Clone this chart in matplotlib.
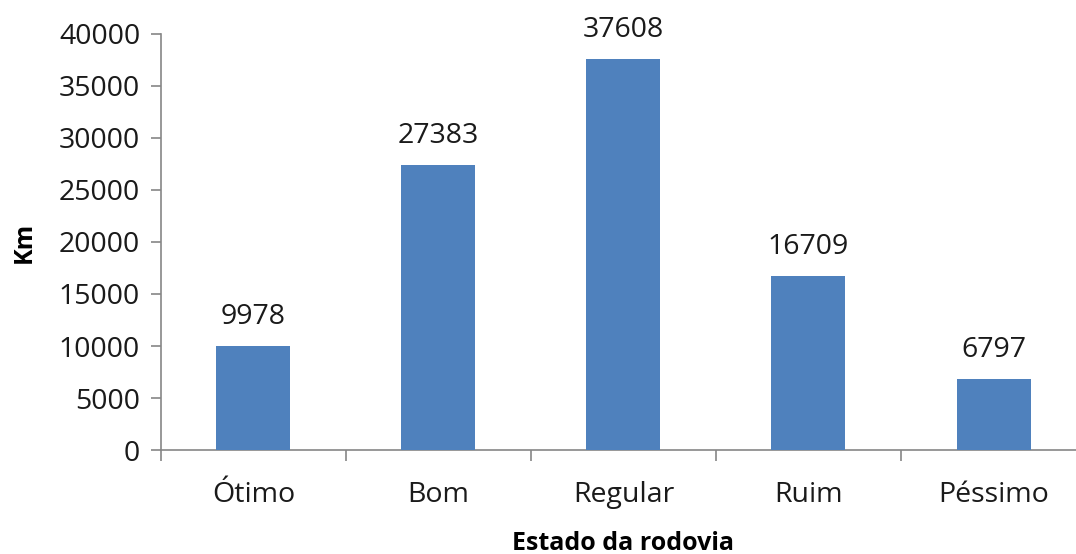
import matplotlib
matplotlib.use("Agg")
import matplotlib.pyplot as plt

categories = ["Ótimo", "Bom", "Regular", "Ruim", "Péssimo"]
values = [9978, 27383, 37608, 16709, 6797]
yticks = [0, 5000, 10000, 15000, 20000, 25000, 30000, 35000, 40000]

plt.rcParams['font.family'] = ['Open Sans', 'DejaVu Sans']
fig = plt.figure(figsize=(10.76, 5.54), dpi=100)
ax = fig.add_axes([0.1496, 0.1877, 0.8597, 0.751])

x = list(range(len(categories)))
bars = ax.bar(x, values, width=0.4, color="#4F81BD", zorder=3)
for xi, v in zip(x, values):
    ax.annotate(str(v), (xi, v), xytext=(0, 11), textcoords="offset points",
                ha="center", va="bottom", fontsize=20.5, color="#1a1a1a")

ax.set_xlim(-0.5, 4.5)
ax.set_ylim(0, 40000)
ax.set_yticks(yticks)
ax.set_yticklabels([str(t) for t in yticks], fontsize=20.5, color="#1a1a1a")
ax.set_xticks(x)
ax.set_xticklabels(categories, fontsize=20.5, color="#1a1a1a")
ax.tick_params(axis='x', length=0, pad=22)
ax.set_xticks([i + 0.5 for i in range(-1, len(categories))], minor=True)
ax.tick_params(axis='x', which='minor', length=8, color="#868686", width=1.2)
ax.tick_params(axis='y', length=7, color="#868686", width=1.2, pad=8)

for s in ['top', 'right']:
    ax.spines[s].set_visible(False)
for s in ['left', 'bottom']:
    ax.spines[s].set_color("#868686")
    ax.spines[s].set_linewidth(1.2)

ax.set_ylabel("Km", fontsize=18, fontweight='bold', labelpad=16)
ax.set_xlabel("Estado da rodovia", fontsize=18, fontweight='bold', labelpad=16)

fig.savefig("out.png", dpi=100)
